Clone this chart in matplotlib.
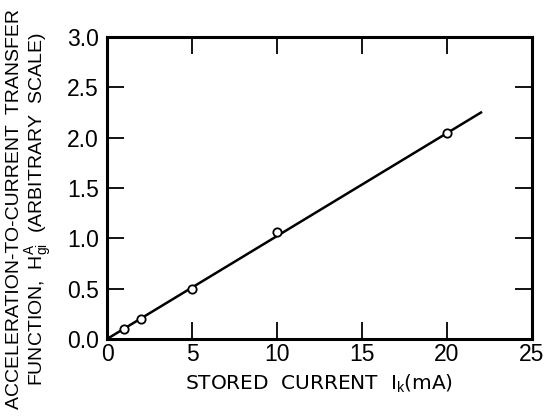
import numpy as np
import matplotlib
matplotlib.use("Agg")
from matplotlib import pyplot as plt

current_ma = [1, 2, 5, 10, 20]
transfer_fn = [0.10, 0.20, 0.50, 1.06, 2.05]

# fitted straight line through origin
fit_x = [0, 22]
fit_y = [0, 2.25]

x_ticks = [0, 5, 10, 15, 20, 25]
x_tick_labels = ["0", "5", "10", "15", "20", "25"]
y_ticks = [0.0, 0.5, 1.0, 1.5, 2.0, 2.5, 3.0]
y_tick_labels = ["0.0", "0.5", "1.0", "1.5", "2.0", "2.5", "3.0"]

plt.rcParams["font.family"] = ["Liberation Sans", "DejaVu Sans"]
plt.rcParams["mathtext.fontset"] = "custom"
plt.rcParams["mathtext.rm"] = "Liberation Sans"
plt.rcParams["mathtext.it"] = "Liberation Sans"

fig = plt.figure(figsize=(5.5, 4.19), dpi=100)
ax = fig.add_axes([107 / 550, 1 - 339 / 419, 425 / 550, 302 / 419])

ax.plot(fit_x, fit_y, color="black", lw=1.8, zorder=2)
ax.plot(current_ma, transfer_fn, "o", ms=6, mfc="white", mec="black", mew=1.3, zorder=3)

ax.set_xlim(0, 25)
ax.set_ylim(0, 3.0)
ax.set_xticks(x_ticks)
ax.set_xticklabels(x_tick_labels)
ax.set_yticks(y_ticks)
ax.set_yticklabels(y_tick_labels)

ax.tick_params(direction="in", length=12, width=1.3, labelsize=16.5,
               top=True, right=True, pad=3, colors="black")
ax.tick_params(axis="y", pad=6)
for s in ax.spines.values():
    s.set_linewidth(2.2)

ax.set_xlabel(r"STORED  CURRENT  I$_\mathrm{k}$(mA)", fontsize=14.5, labelpad=5,
              family="DejaVu Sans")
ax.set_ylabel("ACCELERATION-TO-CURRENT  TRANSFER\n"
              r"FUNCTION,  H$^\mathrm{A}_\mathrm{gi}$  (ARBITRARY  SCALE)",
              fontsize=14, linespacing=1.05)
ax.yaxis.set_label_coords(-0.125, 0.43)

fig.savefig("out.png", dpi=100)
